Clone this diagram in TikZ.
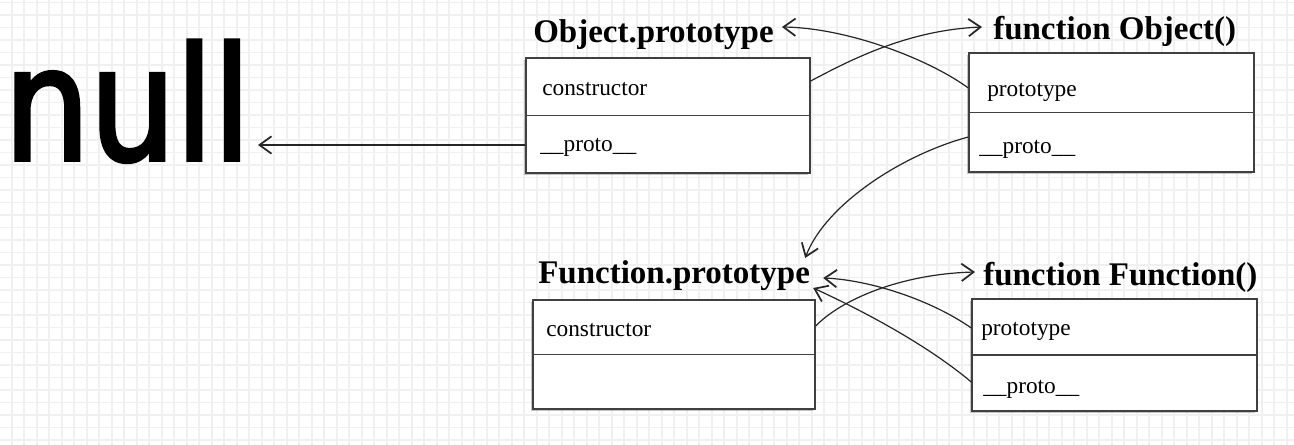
\documentclass[tikz,border=0pt]{standalone}
\usepackage{fontspec}
\setmainfont{Liberation Serif}
\newfontfamily\bigsans[FakeStretch=0.86,FakeBold=2.5]{DejaVu Sans}
\usetikzlibrary{arrows.meta,shadows,calc}

\tikzset{
  gridline/.style={draw=black!6, line width=1.4pt},
  box/.style={draw=black!75, line width=1.1pt, fill=white, inner sep=0,
    drop shadow={shadow xshift=-1.2pt, shadow yshift=-1.5pt, fill=black!45, opacity=.5}},
  title/.style={font=\fontsize{24.75}{28}\selectfont\bfseries, inner sep=0, anchor=base west},
  field/.style={font=\fontsize{17.5}{20}\selectfont, inner sep=0, anchor=base west},
  arr/.style={draw=black!85, line width=0.9pt, -{Straight Barb[length=9pt,width=13pt,line width=1.3pt]}}
}

\begin{document}
\begin{tikzpicture}[x=0.75pt,y=-0.75pt]
\useasboundingbox (0,0) rectangle (1294,445);
\fill[white] (0,0) rectangle (1294,445);
% grid
\foreach \i in {0,...,104} \draw[gridline] ({12.5*\i-0.8},0) -- ({12.5*\i-0.8},445);
\foreach \j in {0,...,35} \draw[gridline] (0,{12.5*\j+2.5}) -- (1294,{12.5*\j+2.5});

\node[font=\bigsans\fontsize{118}{120}\selectfont, inner sep=0, anchor=base east] (null) at (251,160) {null};

% boxes
\node[box, minimum width=213pt, minimum height=86.25pt] (opbox) at (668,115.5) {};
\node[box, minimum width=213.75pt, minimum height=89.25pt] (fobox) at (1111.5,112.5) {};
\node[box, minimum width=211.5pt, minimum height=81.75pt] (fpbox) at (674,354.5) {};
\node[box, minimum width=213.75pt, minimum height=84pt] (ffbox) at (1114.5,355) {};
\foreach \b in {opbox,fobox,fpbox,ffbox} \draw[draw=black!75, line width=1.1pt] (\b.west) -- (\b.east);

% titles
\node[title] (optitle) at (533,43) {Object.prototype};
\node[title] (fotitle) at (993,40) {function Object()};
\node[title] (fptitle) at (538,283) {Function.prototype};
\node[title] (fftitle) at (983,285) {function Function()};

% fields
\node[field] (opcons) at (542,96) {constructor};
\node[field] (opproto) at (540,152) {\_\_proto\_\_};
\node[field] (foprot) at (987,97) {prototype};
\node[field] (foproto) at (979,154) {\_\_proto\_\_};
\node[field] (fpcons) at (546,336) {constructor};
\node[field] (ffprot) at (981,335) {prototype};
\node[field] (ffproto) at (983,393) {\_\_proto\_\_};

% links
\draw[arr] ($(opbox.west)+(0,29.5)$) -- ($(null.base east)+(7,-15)$);
\draw[arr] ($(opbox.east)+(0,-34.5)$) .. controls +(43,-23) and +(-72,3) .. ($(fotitle.base west)+(-11,-13)$);
\draw[arr] ($(fobox.west)+(0,-24.5)$) .. controls +(-38,-28) and +(67,1) .. ($(optitle.base east)+(8,-16)$);
\draw[arr] ($(fobox.west)+(0,24.5)$) .. controls +(-67,18) and +(20,-53) .. ($(fptitle.base east)+(-5,-25)$);
\draw[arr] ($(fpbox.east)+(0,-28.5)$) .. controls +(25,-26) and +(-75,2) .. ($(fftitle.base west)+(-8,-13)$);
\draw[arr] ($(ffbox.west)+(0,-27)$) .. controls +(-40,-28) and +(47,2) .. ($(fptitle.base east)+(13,-5)$);
\draw[arr] ($(ffbox.west)+(0,27)$) .. controls +(-50,-42) and +(37,17) .. ($(fptitle.base east)+(3,5)$);
\end{tikzpicture}
\end{document}
